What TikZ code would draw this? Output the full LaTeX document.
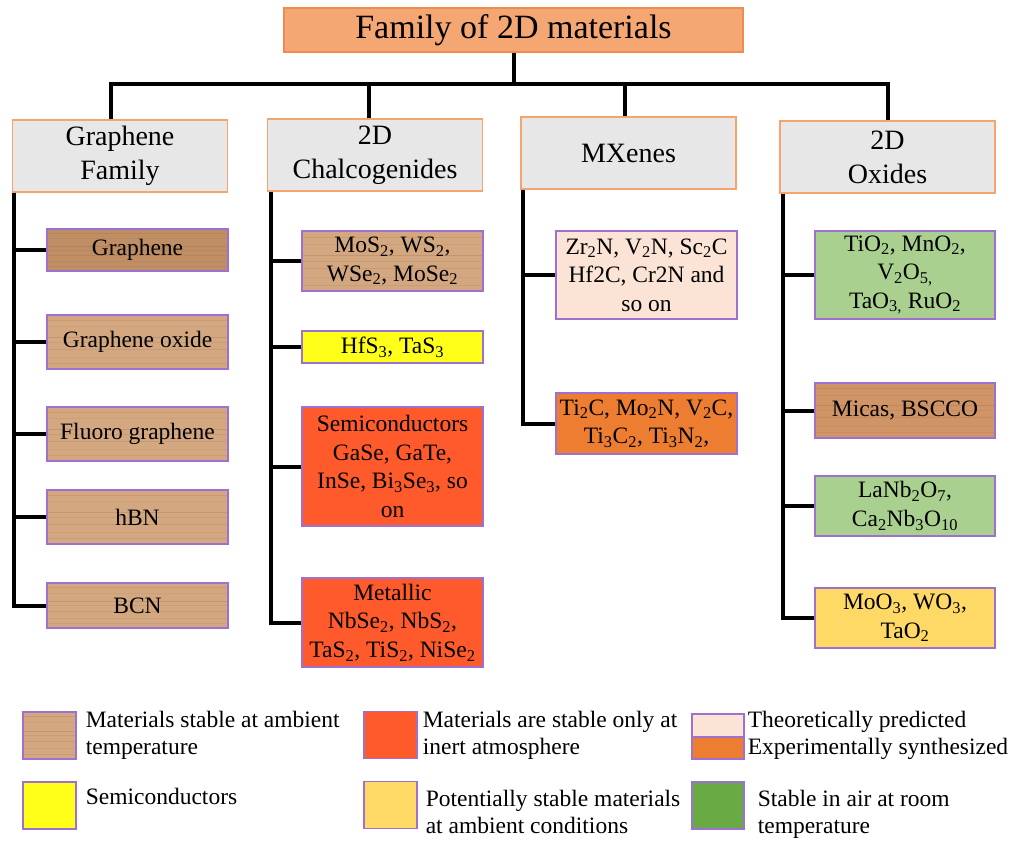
\documentclass[tikz,border=0pt]{standalone}
\usepackage{fontspec}
\setmainfont{Liberation Serif}
\usetikzlibrary{calc,positioning}

\definecolor{titlefill}{RGB}{244,166,115}
\definecolor{titleedge}{RGB}{238,139,78}
\definecolor{famfill}{RGB}{231,231,231}
\definecolor{famedge}{RGB}{244,164,108}
\definecolor{matedge}{RGB}{158,113,209}
\definecolor{woodbase}{RGB}{211,167,128}
\definecolor{woodgr}{RGB}{191,142,100}
\definecolor{woodmica}{RGB}{207,149,102}
\definecolor{grain}{RGB}{122,74,40}
\definecolor{semiyel}{RGB}{255,255,26}
\definecolor{inertred}{RGB}{255,90,44}
\definecolor{theopink}{RGB}{251,228,214}
\definecolor{synorange}{RGB}{237,125,49}
\definecolor{airgreen}{RGB}{169,208,142}
\definecolor{keygreen}{RGB}{106,170,69}
\definecolor{potyel}{RGB}{255,217,102}

\newcommand{\lo}[1]{\textsubscript{#1}}

\tikzset{
  conn/.style={line width=4pt, line join=miter},
  head/.style={draw=titleedge, line width=1.5pt, fill=titlefill, minimum width=459, minimum height=44, font=\fontsize{34}{40}\selectfont},
  famnode/.style={draw=famedge, line width=1.5pt, fill=famfill, minimum width=215, minimum height=72, align=center, font=\fontsize{28}{34}\selectfont},
  matnode/.style={draw=matedge, line width=1.2pt, minimum width=181, align=center, inner sep=2pt, font=\fontsize{23.5}{28.5}\selectfont},
  wood/.style={fill=#1, path picture={
    \foreach \fr/\op in {0.1/0.12,0.22/0.08,0.41/0.18,0.5/0.1,0.63/0.12,0.78/0.08,0.9/0.1}
      \draw[grain, opacity=\op, line width=0.8pt]
        ($(path picture bounding box.north west)!\fr!(path picture bounding box.south west)$) --
        ($(path picture bounding box.north east)!\fr!(path picture bounding box.south east)$);
  }},
  wood/.default=woodbase,
  keybox/.style={draw=matedge, line width=1.2pt, minimum width=53, minimum height=47, inner sep=0pt},
  keytext/.style={anchor=north west, inner sep=0pt, align=left, font=\fontsize{23.5}{27}\selectfont},
}

\begin{document}
\begin{tikzpicture}[x=1pt,y=1pt,yscale=-1]
\useasboundingbox (0,0) rectangle (1021,841);

% Title
\node[head] (head) at (513.5,30) {Family of 2D materials};

% Families
\node[famnode] (graph) at (120,156) {Graphene\\Family};
\node[famnode] (chalc) at (375,155) {2D\\Chalcogenides};
\node[famnode] (mxene) at (628.5,153) {MXenes};
\node[famnode] (oxide) at (887.5,157) {2D\\Oxides};

% Graphene family members
\node[matnode, wood=woodgr, minimum height=42] (gr1) at (137.5,250) {Graphene};
\node[matnode, wood, minimum height=54] (gr2) at (137.5,342) {Graphene oxide};
\node[matnode, wood, minimum height=54] (gr3) at (137.5,434) {Fluoro graphene};
\node[matnode, wood, minimum height=54] (gr4) at (137.5,517) {hBN};
\node[matnode, wood, minimum height=45] (gr5) at (137.5,605.5) {BCN};

% Chalcogenides
\node[matnode, wood, minimum height=60] (ch1) at (392.5,261) {MoS\lo{2}, WS\lo{2},\\WSe\lo{2}, MoSe\lo{2}};
\node[matnode, fill=semiyel, minimum height=32] (ch2) at (392.5,347) {HfS\lo{3}, TaS\lo{3}};
\node[matnode, fill=inertred, minimum height=119] (ch3) at (392.5,466.5) {Semiconductors\\GaSe, GaTe,\\InSe, Bi\lo{3}Se\lo{3}, so\\on};
\node[matnode, fill=inertred, minimum height=89] (ch4) at (392.5,622.5) {Metallic\\NbSe\lo{2}, NbS\lo{2},\\TaS\lo{2}, TiS\lo{2}, NiSe\lo{2}};

% MXenes
\node[matnode, fill=theopink, minimum height=88] (mx1) at (646.5,275) {Zr\lo{2}N, V\lo{2}N, Sc\lo{2}C\\Hf2C, Cr2N and\\so on};
\node[matnode, fill=synorange, minimum height=61] (mx2) at (646.5,423.5) {Ti\lo{2}C, Mo\lo{2}N, V\lo{2}C,\\Ti\lo{3}C\lo{2}, Ti\lo{3}N\lo{2},};

% Oxides
\node[matnode, fill=airgreen, minimum width=180, minimum height=88] (ox1) at (905,275) {TiO\lo{2}, MnO\lo{2},\\V\lo{2}O\lo{5,}\\TaO\lo{3,} RuO\lo{2}};
\node[matnode, wood=woodmica, minimum width=180, minimum height=55] (ox2) at (905,410.5) {Micas, BSCCO};
\node[matnode, fill=airgreen, minimum width=180, minimum height=60] (ox3) at (905,506) {LaNb\lo{2}O\lo{7},\\Ca\lo{2}Nb\lo{3}O\lo{10}};
\node[matnode, fill=potyel, minimum width=180, minimum height=60] (ox4) at (905,618) {MoO\lo{3}, WO\lo{3},\\TaO\lo{2}};

% Connectors: title to families
\coordinate (bus) at ($(head.south)+(0,31)$);
\draw[conn] (head.south) -- (bus);
\draw[conn] ($(graph.north)+(-9,0)$) |- (bus);
\draw[conn] ($(chalc.north)+(-6.5,0)$) |- (bus);
\draw[conn] ($(mxene.north)+(-3.5,0)$) |- (bus);
\draw[conn] (oxide.north) |- (bus);

% Connectors: families to members
\foreach \m in {gr1,gr2,gr3,gr4,gr5}
  \draw[conn] ($(graph.south west)+(2,0)$) |- (\m.west);
\foreach \m in {ch1,ch2,ch3,ch4}
  \draw[conn] ($(chalc.south west)+(4,0)$) |- (\m.west);
\foreach \m in {mx1,mx2}
  \draw[conn] ($(mxene.south west)+(3,0)$) |- (\m.west);
\foreach \m in {ox1,ox2,ox3,ox4}
  \draw[conn] ($(oxide.south west)+(3.5,0)$) |- (\m.west);

% Legend
\node[keybox, wood] (key1) at (49.5,735.5) {};
\node[keybox, fill=semiyel] (key2) at (49.5,805.5) {};
\node[keybox, fill=inertred] (key3) at (390.5,735) {};
\node[keybox, fill=potyel] (key4) at (390.5,805) {};
\node[keybox, fill=theopink, minimum width=52, minimum height=23] (key5a) at (718,725.5) {};
\node[keybox, fill=synorange, minimum width=52, minimum height=22] (key5b) at (718,748) {};
\node[keybox, fill=keygreen, minimum width=52] (key6) at (718,805.5) {};

\node[keytext] (txt1) at ($(key1.north east)+(9,0)$) {Materials stable at ambient\\temperature};
\node[keytext] (txt2) at ($(key2.north east)+(9,7)$) {Semiconductors};
\node[keytext] (txt3) at ($(key3.north east)+(5,0)$) {Materials are stable only at\\inert atmosphere};
\node[keytext] (txt4) at ($(key4.north east)+(8,9)$) {Potentially stable materials\\at ambient conditions};
\node[keytext] (txt5) at ($(key5a.north east)+(3,-2)$) {Theoretically predicted\\Experimentally synthesized};
\node[keytext] (txt6) at ($(key6.north east)+(13,9)$) {Stable in air at room\\temperature};

\end{tikzpicture}
\end{document}
